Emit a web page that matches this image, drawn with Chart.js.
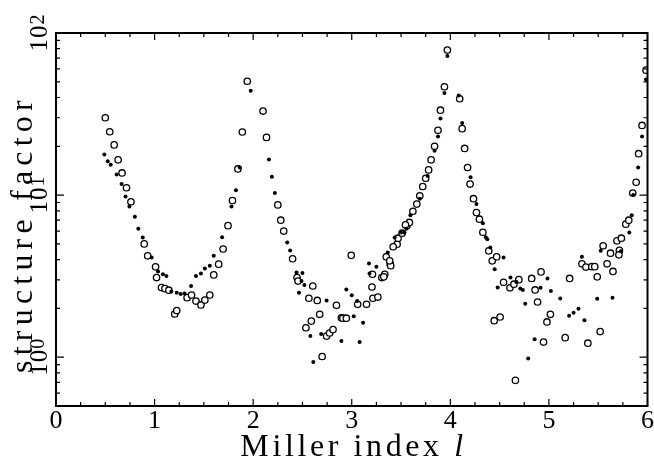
<!DOCTYPE html>
<html>
<head>
<meta charset="utf-8">
<script src="https://cdn.jsdelivr.net/npm/chart.js@4.4.0/dist/chart.umd.min.js"></script>
<style>
    body { margin: 0; background: #fff; }
    canvas { display: block; }
</style>
</head>
<body>
<canvas id="chart" width="654" height="462"></canvas>
<script>
'use strict'

// open circles
const openX = [0.50, 0.545, 0.59, 0.63, 0.67, 0.715, 0.76, 0.895, 0.93, 1.01, 1.02, 1.07, 1.105, 1.145, 1.205, 1.225,
    1.33, 1.375, 1.42, 1.47, 1.51, 1.56, 1.60, 1.65, 1.695, 1.745, 1.79, 1.845, 1.89, 1.94,
    2.10, 2.135, 2.25, 2.28, 2.31, 2.40, 2.445, 2.455, 2.605, 2.565, 2.65, 2.845, 2.675, 2.59, 2.535,
    2.745, 2.775, 2.81, 2.70, 2.895, 2.91, 2.945, 2.995, 3.06, 3.15, 3.215, 3.265, 3.205, 3.305, 3.335,
    3.35, 3.39, 3.46, 3.56, 3.585, 3.62, 3.21, 3.325, 3.395, 3.385, 3.42, 3.47, 3.51, 3.545,
    3.66, 3.69, 3.72, 3.75, 3.78, 3.805, 3.84, 3.875, 3.90, 3.94, 3.97,
    4.095, 4.12, 4.145, 4.175, 4.20, 4.235, 4.265, 4.295, 4.33, 4.39, 4.425, 4.47, 4.54, 4.605, 4.645,
    4.695, 4.825, 4.92, 4.86, 4.885, 4.445, 4.505, 5.015, 4.98, 5.21, 4.945, 5.165, 5.395, 5.52, 4.66,
    5.335, 5.375, 5.435, 5.465, 5.49, 5.55, 5.625, 5.59, 5.65, 5.69, 5.735, 5.715, 5.71,
    5.78, 5.81, 5.85, 5.885, 5.91, 5.945, 5.985]
const openY = [30.0, 24.6, 20.4, 16.5, 13.7, 11.1, 9.1, 5.0, 4.22, 3.61, 3.10, 2.69, 2.65, 2.59, 1.85, 1.94,
    2.33, 2.42, 2.22, 2.10, 2.25, 2.42, 3.22, 3.75, 4.65, 6.48, 9.25, 14.5, 24.5, 50.4,
    33.0, 22.7, 8.7, 7.0, 6.0, 4.05, 3.1, 2.95, 2.75, 2.31, 2.24, 2.09, 1.84, 1.67, 1.52,
    1.35, 1.41, 1.48, 1.01, 1.75, 1.74, 1.74, 4.25, 2.12, 2.12, 2.31, 2.35, 2.71, 3.1, 3.25,
    4.16, 3.75, 4.98, 6.48, 6.78, 7.95, 3.25, 3.13, 3.67, 3.93, 4.8, 5.42, 5.82, 6.56,
    8.8, 9.9, 11.3, 12.7, 14.3, 16.5, 20.0, 25.1, 33.4, 46.6, 78.5,
    39.3, 25.7, 19.4, 14.8, 11.7, 9.5, 7.8, 7.1, 5.9, 4.53, 3.93, 4.16, 2.9, 2.68, 2.82,
    3.01, 3.06, 3.36, 2.6, 2.19, 1.68, 1.77, 1.84, 1.65, 3.06, 1.24, 1.32, 1.22, 1.44, 0.72,
    3.77, 3.6, 3.62, 3.62, 3.13, 4.87, 4.38, 3.77, 3.38, 5.22, 5.42, 4.56, 4.28,
    6.62, 7.0, 10.3, 12.0, 18.0, 26.9, 59.0]

// filled dots
const dotX = [0.49, 0.525, 0.555, 0.615, 0.665, 0.705, 0.745, 0.80, 0.835, 0.88, 0.97, 1.035, 1.085, 1.12,
    1.17, 1.225, 1.265, 1.305, 1.37, 1.42, 1.47, 1.51, 1.56, 1.60, 1.685, 1.78, 1.825, 1.865, 1.975,
    2.16, 2.19, 2.22, 2.345, 2.375, 2.44, 2.50, 2.49, 2.52, 2.465, 2.745, 2.58, 2.69, 2.895, 2.61,
    3.02, 3.115, 3.08, 2.945, 3.00, 3.055, 3.18, 3.175, 3.25, 3.365, 3.435, 3.50, 3.535, 3.555, 3.595,
    3.69, 3.77, 3.84, 3.875, 3.90, 3.94, 3.97,
    4.085, 4.12, 4.205, 4.265, 4.33, 4.36, 4.375, 4.405, 4.45, 4.54, 4.48, 4.61, 4.67, 4.71, 4.735,
    4.915, 4.985, 5.02, 4.76, 5.115, 5.205, 5.25, 5.30, 5.36, 4.855, 4.79, 5.335, 5.49, 5.645, 5.525,
    5.73, 5.815, 5.84, 5.855, 5.905, 5.945, 5.985]
const dotY = [17.8, 16.2, 15.4, 13.4, 11.7, 9.8, 8.5, 7.36, 6.2, 5.48, 4.12, 3.38, 3.25, 3.17,
    2.54, 2.5, 2.45, 2.47, 2.75, 3.17, 3.28, 3.52, 3.66, 4.22, 5.5, 8.5, 10.7, 14.8, 44.0,
    16.6, 13.0, 10.3, 5.1, 4.55, 3.33, 3.31, 2.95, 2.79, 2.5, 2.24, 1.35, 1.39, 1.26, 0.935,
    1.79, 1.63, 1.24, 2.62, 2.41, 2.22, 3.28, 3.78, 3.61, 4.42, 5.48, 5.88, 5.88, 6.2, 7.5,
    9.5, 13.1, 18.8, 23.0, 29.7, 42.7, 72.1,
    41.2, 27.8, 12.9, 8.8, 6.7, 5.5, 5.35, 4.75, 3.49, 4.12, 2.69, 3.1, 2.91, 2.65, 2.6,
    2.68, 3.06, 2.56, 2.14, 2.3, 1.8, 1.88, 1.99, 1.69, 1.29, 0.98, 4.17, 2.29, 2.33, 4.53,
    4.5, 5.87, 7.5, 10.0, 14.8, 23.0, 51.6]

const xTicks = [0, 1, 2, 3, 4, 5, 6]
const yMajor = [1, 10, 100]
const yExp = ['0', '1', '2']
const xTitle = 'Miller index '
const xTitleVar = 'l'
const yTitle = 'structure factor'

const FONT = 'Liberation Serif'


function pairs(xs, ys) {
    return xs.map((x, i) => ({ x: x, y: ys[i] }))
}

function setFont(ctx, size, italic, spacing) {
    ctx.font = `${italic ? 'italic ' : ''}${size}px "${FONT}"`
    ctx.letterSpacing = `${spacing || 0}px`
}

function textW(ctx, text, size, italic, spacing) {
    setFont(ctx, size, italic, spacing)
    return ctx.measureText(text).width
}

const frame = {
    id: 'frame',
    afterDraw(chart) {
        const ctx = chart.ctx
        const a = chart.chartArea
        const xs = chart.scales.x
        const ys = chart.scales.y
        ctx.save()
        ctx.strokeStyle = '#000'
        ctx.fillStyle = '#000'

        // inner ticks
        ctx.lineWidth = 1.2
        ctx.beginPath()
        for (let v = 0; v <= 6.001; v += 0.25) {
            const px = xs.getPixelForValue(v)
            const len = Math.abs(v - Math.round(v)) < 0.01 ? 7 : 4
            ctx.moveTo(px, a.bottom); ctx.lineTo(px, a.bottom - len)
            ctx.moveTo(px, a.top); ctx.lineTo(px, a.top + len)
        }
        for (let dec = 0.1; dec < 100; dec *= 10) {
            for (let m = 1; m <= 10; m++) {
                const v = dec * m
                if (v < 0.5 || v > 100) continue
                const py = ys.getPixelForValue(v)
                const len = m === 1 || m === 10 ? 8 : 4
                ctx.moveTo(a.left, py); ctx.lineTo(a.left + len, py)
                ctx.moveTo(a.right, py); ctx.lineTo(a.right - len, py)
            }
        }
        ctx.stroke()

        // box
        ctx.lineWidth = 2
        ctx.strokeRect(a.left, a.top, a.right - a.left, a.bottom - a.top)

        ctx.textBaseline = 'alphabetic'

        // y tick labels, rotated
        yMajor.forEach((v, i) => {
            const py = ys.getPixelForValue(v)
            const w10 = textW(ctx, '10', 25, false, 1)
            const w = w10 + textW(ctx, yExp[i], 20, false, 0)
            ctx.save()
            ctx.translate(47, py)
            ctx.rotate(-Math.PI / 2)
            setFont(ctx, 25, false, 1)
            ctx.fillText('10', -w / 2, 0)
            setFont(ctx, 20, false, 0)
            ctx.fillText(yExp[i], -w / 2 + w10, -3)
            ctx.restore()
        })

        // axis titles
        const w1 = textW(ctx, xTitle, 32, false, 3.6)
        const w2 = textW(ctx, xTitleVar, 32, true, 0)
        const cx = xs.getPixelForValue(3)
        setFont(ctx, 32, false, 3.6)
        ctx.fillText(xTitle, cx - (w1 + w2) / 2, 456)
        setFont(ctx, 32, true, 0)
        ctx.fillText(xTitleVar, cx - (w1 + w2) / 2 + w1, 456)

        const wy = textW(ctx, yTitle, 32, false, 5.2)
        ctx.save()
        ctx.translate(32, 234)
        ctx.rotate(-Math.PI / 2)
        setFont(ctx, 32, false, 5.2)
        ctx.fillText(yTitle, -wy / 2, 0)
        ctx.restore()

        ctx.letterSpacing = '0px'
        ctx.restore()
    }
}

function Diagramm() {
    const ctx = document.getElementById('chart').getContext('2d')
    new Chart(ctx, {
        type: 'scatter',
        data: {
            datasets: [{
                label: 'dots',
                data: pairs(dotX, dotY),
                pointRadius: 2,
                pointBackgroundColor: '#000',
                pointBorderWidth: 0,
                pointBorderColor: '#000'
            }, {
                label: 'open',
                data: pairs(openX, openY),
                pointRadius: 3.2,
                pointBackgroundColor: '#fff',
                pointBorderColor: '#000',
                pointBorderWidth: 1.3
            }]
        },
        options: {
            responsive: false,
            animation: false,
            layout: { padding: { top: 33, right: 5, left: 0, bottom: 0 } },
            plugins: { legend: { display: false }, tooltip: { enabled: false } },
            scales: {
                x: {
                    type: 'linear',
                    min: 0,
                    max: 6,
                    afterFit: s => { s.height = 56 },
                    afterBuildTicks: s => { s.ticks = xTicks.map(v => ({ value: v })) },
                    grid: { display: false, drawTicks: false },
                    border: { display: false },
                    ticks: {
                        padding: 0,
                        color: '#000',
                        font: { family: FONT, size: 26 },
                        maxRotation: 0
                    }
                },
                y: {
                    type: 'logarithmic',
                    min: 0.5,
                    max: 100,
                    afterFit: s => { s.width = 56 },
                    grid: { display: false },
                    border: { display: false },
                    ticks: { display: false }
                }
            }
        },
        plugins: [frame]
    })
}

document.addEventListener('DOMContentLoaded', () => {
    Diagramm()
})
</script>
</body>
</html>
